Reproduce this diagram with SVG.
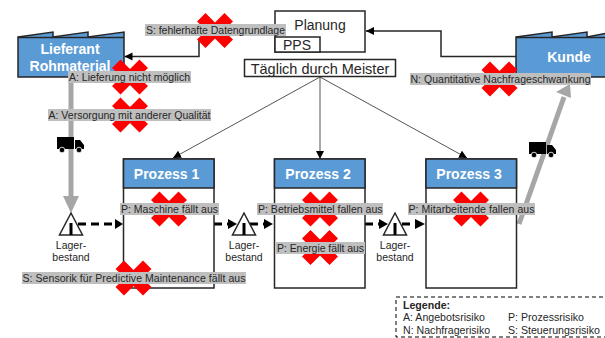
<svg xmlns="http://www.w3.org/2000/svg" width="605" height="338" viewBox="0 0 605 338">
<style>
text{font-family:"Liberation Sans",Arial,sans-serif;fill:#262626}
.box{fill:#fff;stroke:#262626;stroke-width:1.5}
.head{fill:#5b9bd5;stroke:#262626;stroke-width:1.5}
.ht{fill:#fff;font-weight:bold;text-anchor:middle}
.lb{fill:#bfbfbf}
.lt{font-size:10.5px}
.thin{fill:none;stroke:#555;stroke-width:1}
.link{fill:none;stroke:#262626;stroke-width:1.5}
.dash{fill:none;stroke:#000;stroke-width:3;stroke-dasharray:8 5}
.flow{fill:none;stroke:#a6a6a6;stroke-width:5}
.tri{fill:#fff;stroke:#262626;stroke-width:1.5}
.sm{font-size:10.5px;text-anchor:middle}
.leg{font-size:10.6px}
</style>
<defs>
<marker id="a" markerUnits="userSpaceOnUse" markerWidth="9" markerHeight="9" refX="8" refY="4" orient="auto"><path d="M0 0L8 4L0 8Z" fill="#000"/></marker>
<g id="x"><path d="M-9.5-17.5L0-8L9.500-17.500L18-9L8.500 0L18 9L9.500 17.500L0 8L-9.500 17.500L-18 9L-8.500 0L-18-9Z" fill="#f00"/></g>
<g id="truck"><path d="M0 1H17V13H0Z M18 4H23L27 9V13H18Z" fill="#000"/><circle cx="5" cy="14" r="2.800" fill="#000" stroke="#fff" stroke-width=".8"/><circle cx="22" cy="14" r="2.800" fill="#000" stroke="#fff" stroke-width=".8"/></g>
</defs>

<g id="connectors">
<path class="thin" d="M320 77L173 158" marker-end="url(#a)"/>
<path class="thin" d="M320 77V159" marker-end="url(#a)"/>
<path class="thin" d="M320 77L467 158" marker-end="url(#a)"/>
<path class="link" d="M199 38V56.500H124.500" marker-end="url(#a)"/>
<path class="link" d="M516 56.500H441V31H366" marker-end="url(#a)"/>
<path class="flow" d="M71 77V198"/><path d="M63 196H79L71 213Z" fill="#a6a6a6"/>
<path class="flow" d="M519 224L564 97"/><path d="M556 92L571 98L570 84Z" fill="#a6a6a6"/>
<path class="dash" d="M78 224H116"/><path d="M115 219L123 224L115 229Z"/>
<path class="dash" d="M214 224H230"/><path d="M228 219L237 224L228 229Z"/>
<path class="dash" d="M250 224H266"/><path d="M264 219L273 224L264 229Z"/>
<path class="dash" d="M365 224H381"/><path d="M379 219L388 224L379 229Z"/>
<path class="dash" d="M402 224H418"/><path d="M415 219L425 224L415 229Z"/>
</g>

<g id="lieferant"><path class="head" d="M18 37L53 32V37L88 32V37L124 32V77H18Z"/><path d="M18 37.500H124" class="link"/><text class="ht" font-size="14" x="70" y="54">Lieferant</text><text class="ht" font-size="14" x="70" y="71">Rohmaterial</text></g>
<g id="kunde"><path class="head" d="M516 37L552 32V37L587 32V37L607 33V77H516Z"/><path d="M516 37.500H607" class="link"/><text class="ht" font-size="14" x="569" y="62">Kunde</text></g>
<g id="planung"><rect class="box" x="275" y="11" width="90" height="41"/><rect class="box" x="275" y="37" width="45" height="15"/><text font-size="14" text-anchor="middle" x="320" y="30">Planung</text><text font-size="14" x="283" y="50">PPS</text></g>
<g id="meister"><rect class="box" x="244.500" y="59.500" width="151" height="17"/><text font-size="14.500" text-anchor="middle" x="320" y="73.500">Täglich durch Meister</text></g>

<g id="prozess1"><rect class="box" x="123.500" y="159" width="90.500" height="129"/><rect class="head" x="123.500" y="159" width="90.500" height="29"/><text class="ht" font-size="14" x="166.500" y="179">Prozess 1</text></g>
<g id="prozess2"><rect class="box" x="274.500" y="159" width="90.500" height="129"/><rect class="head" x="274.500" y="159" width="90.500" height="29"/><text class="ht" font-size="14" x="318" y="179">Prozess 2</text></g>
<g id="prozess3"><rect class="box" x="426" y="159" width="90.500" height="129"/><rect class="head" x="426" y="159" width="90.500" height="29"/><text class="ht" font-size="14" x="469" y="179">Prozess 3</text></g>

<g id="lager1"><path class="tri" d="M71 213L82.500 235H59.500Z"/><rect x="69.500" y="223" width="3" height="12"/><text class="sm" x="71" y="249">Lager-</text><text class="sm" x="71" y="261">bestand</text></g>
<g id="lager2"><path class="tri" d="M244 213L255.500 235H232.500Z"/><rect x="242.500" y="223" width="3" height="12"/><text class="sm" x="244" y="249">Lager-</text><text class="sm" x="244" y="261">bestand</text></g>
<g id="lager3"><path class="tri" d="M395 213L406.500 235H383.500Z"/><rect x="393.500" y="223" width="3" height="12"/><text class="sm" x="395" y="249">Lager-</text><text class="sm" x="395" y="261">bestand</text></g>

<use id="truck1" href="#truck" x="57" y="136"/>
<use id="truck2" href="#truck" x="529" y="141"/>

<g id="risiko-s1"><use href="#x" x="215" y="30.500"/><rect class="lb" x="145" y="24" width="141" height="12"/><text class="lt" x="146" y="33.500" textLength="139">S: fehlerhafte  Datengrundlage</text></g>
<g id="risiko-a1"><use href="#x" x="130" y="77"/><rect class="lb" x="68" y="71" width="123" height="12"/><text class="lt" x="69" y="81" textLength="121">A: Lieferung nicht möglich</text></g>
<g id="risiko-a2"><use href="#x" x="130" y="115"/><rect class="lb" x="48" y="109" width="163" height="12"/><text class="lt" x="48.500" y="119" textLength="162">A: Versorgung mit anderer Qualität</text></g>
<g id="risiko-n"><use href="#x" x="499.500" y="79"/><rect class="lb" x="410" y="73" width="181" height="12"/><text class="lt" x="410.500" y="83" textLength="180">N: Quantitative  Nachfrageschwankung</text></g>
<g id="risiko-p1"><use href="#x" x="169" y="209"/><rect class="lb" x="120" y="203" width="99" height="12"/><text class="lt" x="121" y="213" textLength="97">P: Maschine fällt aus</text></g>
<g id="risiko-p2"><use href="#x" x="320" y="209"/><rect class="lb" x="257" y="203" width="126" height="12"/><text class="lt" x="258" y="213" textLength="124.500">P: Betriebsmittel  fallen aus</text></g>
<g id="risiko-p3"><use href="#x" x="471" y="209"/><rect class="lb" x="408" y="203" width="127" height="12"/><text class="lt" x="408.500" y="213" textLength="126">P: Mitarbeitende  fallen aus</text></g>
<g id="risiko-p4"><use href="#x" x="320" y="247.500"/><rect class="lb" x="276" y="242" width="89" height="12"/><text class="lt" x="277" y="251.500" textLength="87">P: Energie fällt aus</text></g>
<g id="risiko-s2"><use href="#x" x="133.500" y="278"/><rect class="lb" x="22" y="272" width="224" height="12"/><text class="lt" x="22.500" y="281.500" textLength="223">S: Sensorik für Predictive Maintenance  fällt aus</text></g>

<g id="legende"><rect x="396" y="297" width="212" height="40" fill="#fff" stroke="#000" stroke-width="1" stroke-dasharray="4 3"/><text class="leg" font-weight="bold" x="403" y="309">Legende:</text><text class="leg" x="403" y="321">A: Angebotsrisiko</text><text class="leg" x="508" y="321">P: Prozessrisiko</text><text class="leg" x="403" y="334">N: Nachfragerisiko</text><text class="leg" x="508" y="334">S: Steuerungsrisiko</text></g>
</svg>
